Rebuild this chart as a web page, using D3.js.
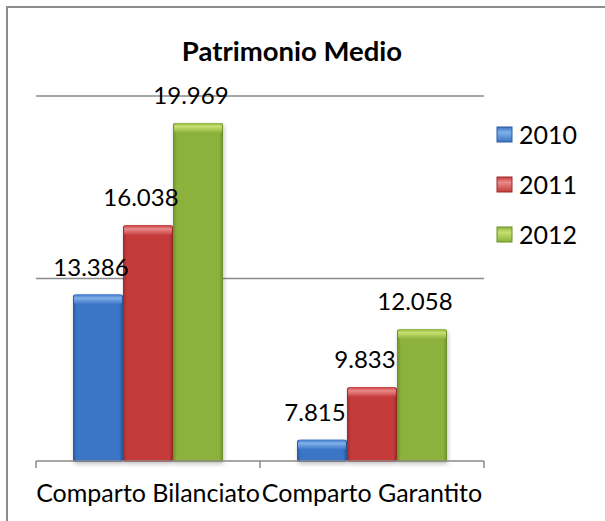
<!DOCTYPE html>
<html>
<head>
<meta charset="utf-8">
<script src="https://cdn.jsdelivr.net/npm/d3@7"></script>
<style>
  body { margin: 0; background: #fff; }
  text { font-family: Lato, "Open Sans", sans-serif; fill: #000; }
</style>
</head>
<body>
<script>
var categories = ['Comparto Bilanciato', 'Comparto Garantito'];
var years = ['2010', '2011', '2012'];
var values2010 = [13.386, 7.815];
var values2011 = [16.038, 9.833];
var values2012 = [19.969, 12.058];
var yTicks = [7, 14, 21];
var labelText = ['13.386', '7.815', '16.038', '9.833', '19.969', '12.058'];

var series = [values2010, values2011, values2012];
// body, bevel-top, dark edge
var colors = [
    { body: '#3b74c6', light: '#7fb0ea', dark: '#2a5a9e' },
    { body: '#c53a3a', light: '#ea8a8a', dark: '#9c2a2a' },
    { body: '#8cb23c', light: '#c6e070', dark: '#6d8e2a' }
];

var width = 605, height = 521;

var svg = d3.select('body').append('svg')
    .attr('width', width)
    .attr('height', height);

var defs = svg.append('defs');

colors.forEach(function(c, i) {
    var g = defs.append('linearGradient').attr('id', 'body' + i)
        .attr('x1', 0).attr('x2', 1).attr('y1', 0).attr('y2', 0);
    g.append('stop').attr('offset', '0%').attr('stop-color', c.dark);
    g.append('stop').attr('offset', '8%').attr('stop-color', c.body);
    g.append('stop').attr('offset', '92%').attr('stop-color', c.body);
    g.append('stop').attr('offset', '100%').attr('stop-color', c.dark);

    var t = defs.append('linearGradient').attr('id', 'top' + i)
        .attr('x1', 0).attr('x2', 0).attr('y1', 0).attr('y2', 1);
    t.append('stop').attr('offset', '0%').attr('stop-color', c.body);
    t.append('stop').attr('offset', '35%').attr('stop-color', c.light);
    t.append('stop').attr('offset', '100%').attr('stop-color', c.body);
});

var shadow = defs.append('filter').attr('id', 'glow')
    .attr('x', '-20%').attr('y', '-20%').attr('width', '140%').attr('height', '140%');
shadow.append('feGaussianBlur').attr('in', 'SourceAlpha').attr('stdDeviation', 2).attr('result', 'b');
shadow.append('feOffset').attr('in', 'b').attr('dx', 1).attr('dy', 2).attr('result', 'o');
shadow.append('feComponentTransfer').attr('in', 'o').attr('result', 's')
    .append('feFuncA').attr('type', 'linear').attr('slope', 0.25);
var merge = shadow.append('feMerge');
merge.append('feMergeNode').attr('in', 's');
merge.append('feMergeNode').attr('in', 'SourceGraphic');

// outer frame (cropped on right / bottom)
svg.append('rect')
    .attr('x', 7).attr('y', 7)
    .attr('width', 640).attr('height', 560)
    .attr('fill', 'none')
    .attr('stroke', '#8c8c8c')
    .attr('stroke-width', 2);

var x0 = d3.scaleBand().domain(categories).range([36, 484]);
var x1 = d3.scaleBand().domain(years).range([0, 150]);

var y = d3.scaleLinear().domain([7, 21]).range([461, 96]);

// gridlines
svg.selectAll('.grid')
    .data(yTicks.slice(1))
    .enter().append('line')
        .attr('x1', 36).attr('x2', 484)
        .attr('y1', function(d) { return y(d) })
        .attr('y2', function(d) { return y(d) })
        .attr('stroke', '#8a8a8a')
        .attr('stroke-width', 1.5);

// bars
var groups = svg.selectAll('.cat')
    .data(categories)
    .enter().append('g')
        .attr('transform', function(d) { return 'translate(' + (x0(d) + (x0.bandwidth() - 150) / 2) + ',0)' });

groups.each(function(cat, ci) {
    var g = d3.select(this);
    years.forEach(function(yr, si) {
        var v = series[si][ci];
        var bx = x1(yr), bw = x1.bandwidth();
        var top = y(v), bottom = y(7) + 1;
        var bar = g.append('g').attr('filter', 'url(#glow)');
        bar.append('rect')
            .attr('x', bx).attr('y', top)
            .attr('width', bw).attr('height', bottom - top)
            .attr('rx', 2)
            .attr('fill', 'url(#body' + si + ')');
        bar.append('rect')
            .attr('x', bx + 1).attr('y', top)
            .attr('width', bw - 2).attr('height', Math.min(10, bottom - top))
            .attr('rx', 3)
            .attr('fill', 'url(#top' + si + ')');
    });
});

// x axis
svg.append('line')
    .attr('x1', 36).attr('x2', 484)
    .attr('y1', y(7)).attr('y2', y(7))
    .attr('stroke', '#8a8a8a').attr('stroke-width', 1.5);

var tickX = [x0.range()[0]].concat(categories.map(function(c) { return x0(c) + x0.bandwidth() }));
svg.selectAll('.tk')
    .data(tickX)
    .enter().append('line')
        .attr('x1', function(d) { return d }).attr('x2', function(d) { return d })
        .attr('y1', y(7)).attr('y2', y(7) + 7)
        .attr('stroke', '#8a8a8a').attr('stroke-width', 1.5);

svg.selectAll('.catlabel')
    .data(categories)
    .enter().append('text')
        .attr('x', function(d) { return x0(d) + x0.bandwidth() / 2 })
        .attr('y', 502)
        .attr('text-anchor', 'middle')
        .style('font-size', '25px')
        .text(function(d) { return d });

// data labels
var labelData = [];
years.forEach(function(yr, si) {
    categories.forEach(function(cat, ci) {
        labelData.push({ cat: cat, yr: yr, v: series[si][ci], t: labelText[si * 2 + ci] });
    });
});

svg.selectAll('.dl')
    .data(labelData)
    .enter().append('text')
        .attr('x', function(d) { return x0(d.cat) + (x0.bandwidth() - 150) / 2 + x1(d.yr) + x1.bandwidth() / 2 - 7 })
        .attr('y', function(d) { return y(d.v) - 19 })
        .attr('text-anchor', 'middle')
        .style('font-size', '24px')
        .text(function(d) { return d.t });

// title
svg.append('text')
    .attr('x', 292)
    .attr('y', 61)
    .attr('text-anchor', 'middle')
    .style('font-size', '27.5px')
    .style('font-weight', 'bold')
    .text('Patrimonio Medio');

// legend
var legend = svg.selectAll('.lg')
    .data(years)
    .enter().append('g')
        .attr('transform', function(d, i) { return 'translate(497,' + (135 + i * 50) + ')' });

legend.append('rect')
    .attr('x', 0).attr('y', -8)
    .attr('width', 15).attr('height', 15)
    .attr('fill', function(d, i) { return 'url(#top' + i + ')' })
    .attr('stroke', function(d, i) { return colors[i].dark })
    .attr('stroke-width', 1);

legend.append('text')
    .attr('x', 22)
    .attr('y', 9)
    .style('font-size', '25px')
    .text(function(d) { return d });
</script>
</body>
</html>
